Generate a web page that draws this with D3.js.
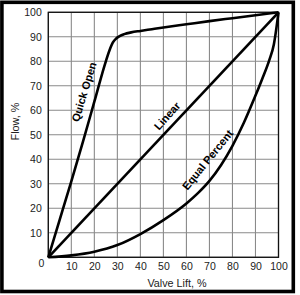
<!DOCTYPE html>
<html>
<head>
<meta charset="utf-8">
<script src="https://cdn.jsdelivr.net/npm/d3@7"></script>
<style>
  html, body { margin: 0; padding: 0; background: #fff; }
  svg { display: block; }
  text { font-family: "Liberation Sans", Arial, sans-serif; }
</style>
</head>
<body>
<svg id="chart" width="300" height="295"></svg>
<script>
// ---- data ----
const xTicks = [10, 20, 30, 40, 50, 60, 70, 80, 90, 100];
const yTicks = [10, 20, 30, 40, 50, 60, 70, 80, 90, 100];
const gridValues = [0, 10, 20, 30, 40, 50, 60, 70, 80, 90, 100];

const quickLift = [0, 5, 10, 15, 20, 25, 27, 28, 29.5, 31, 33, 36, 40, 45, 50, 60, 70, 80, 90, 100];
const quickFlow = [0, 15.5, 31, 47, 63.5, 80, 85.5, 87.6, 89.3, 90.3, 91.1, 91.8, 92.4, 93.1, 93.8, 95.1, 96.4, 97.6, 98.8, 100];

const linearLift = [0, 100];
const linearFlow = [0, 100];

const eqLift = [0, 10, 20, 30, 40, 50, 60, 65, 70, 75, 80, 85, 90, 93, 96, 98, 100];
const eqFlow = [0, 0.8, 2.3, 5, 9.5, 15.2, 22, 26.2, 31.2, 37.6, 45.5, 55, 66, 73, 80.5, 87, 100];

const curveNames = ["Quick Open", "Linear", "Equal Percent"];
// label anchor (lift, flow) in data units and rotation
const labelLift = [15.5, 51.6, 69.2];
const labelFlow = [67.5, 57.7, 39.8];
const labelAngle = [-73, -48, -51];

// ---- layout ----
const svg = d3.select("#chart");
const x = d3.scaleLinear().domain([0, 100]).range([48.3, 278.5]);
const y = d3.scaleLinear().domain([0, 100]).range([257.3, 12.3]);

// outer frame
svg.append("rect")
  .attr("x", 1.9).attr("y", 2.3)
  .attr("width", 291.4).attr("height", 289.2)
  .attr("fill", "none").attr("stroke", "#000").attr("stroke-width", 3.6);

// grid
const grid = svg.append("g");
grid.selectAll("line.v").data(gridValues).join("line")
  .attr("x1", d => x(d)).attr("x2", d => x(d))
  .attr("y1", y(0)).attr("y2", y(100))
  .attr("stroke", "#8a8a8a").attr("stroke-width", 1.1);
grid.selectAll("line.h").data(gridValues).join("line")
  .attr("y1", d => y(d)).attr("y2", d => y(d))
  .attr("x1", x(0)).attr("x2", x(100))
  .attr("stroke", "#8a8a8a").attr("stroke-width", 1.1);

// plot border
svg.append("rect")
  .attr("x", x(0)).attr("y", y(100))
  .attr("width", x(100) - x(0)).attr("height", y(0) - y(100))
  .attr("fill", "none").attr("stroke", "#111").attr("stroke-width", 1.3);

// axes labels via d3 axes (no domain/ticks lines)
const xAxis = svg.append("g")
  .attr("transform", `translate(0,${y(0)})`)
  .call(d3.axisBottom(x).tickValues(xTicks).tickSize(0).tickPadding(5));
xAxis.select(".domain").remove();
xAxis.selectAll("text").attr("font-size", 10.5).attr("fill", "#222")
  .attr("font-family", "'Liberation Sans', Arial, sans-serif");

const yAxis = svg.append("g")
  .attr("transform", `translate(${x(0)},0)`)
  .call(d3.axisLeft(y).tickValues(yTicks).tickSize(0).tickPadding(6.5));
yAxis.select(".domain").remove();
yAxis.selectAll("text").attr("font-size", 10.5).attr("fill", "#222")
  .attr("font-family", "'Liberation Sans', Arial, sans-serif");

// shared origin label
svg.append("text")
  .attr("x", x(0) - 4).attr("y", y(0) + 6)
  .attr("dy", "0.35em")
  .attr("text-anchor", "end")
  .attr("font-size", 10.5).attr("fill", "#222")
  .text("0");

// axis titles
svg.append("text")
  .attr("x", 177).attr("y", y(0) + 26)
  .attr("dy", "0.35em")
  .attr("text-anchor", "middle")
  .attr("font-size", 10.8).attr("fill", "#222")
  .text("Valve Lift, %");

svg.append("text")
  .attr("transform", `translate(15.5,${121.5}) rotate(-90)`)
  .attr("dy", "0.35em")
  .attr("text-anchor", "middle")
  .attr("font-size", 10.8).attr("fill", "#222")
  .text("Flow, %");

// curves
const series = [
  { lift: quickLift, flow: quickFlow, curve: d3.curveMonotoneX },
  { lift: linearLift, flow: linearFlow, curve: d3.curveLinear },
  { lift: eqLift, flow: eqFlow, curve: d3.curveMonotoneX }
];
series.forEach(s => {
  const pts = s.lift.map((l, i) => [l, s.flow[i]]);
  const line = d3.line().x(d => x(d[0])).y(d => y(d[1])).curve(s.curve);
  svg.append("path")
    .attr("d", line(pts))
    .attr("fill", "none")
    .attr("stroke", "#000")
    .attr("stroke-width", 2.6)
    .attr("stroke-linejoin", "round");
});

// curve labels
curveNames.forEach((name, i) => {
  svg.append("text")
    .attr("transform", `translate(${x(labelLift[i])},${y(labelFlow[i])}) rotate(${labelAngle[i]})`)
    .attr("dy", "0.35em")
    .attr("text-anchor", "middle")
    .attr("font-size", 11)
    .attr("font-weight", "bold")
    .attr("fill", "#000")
    .text(name);
});
</script>
</body>
</html>
